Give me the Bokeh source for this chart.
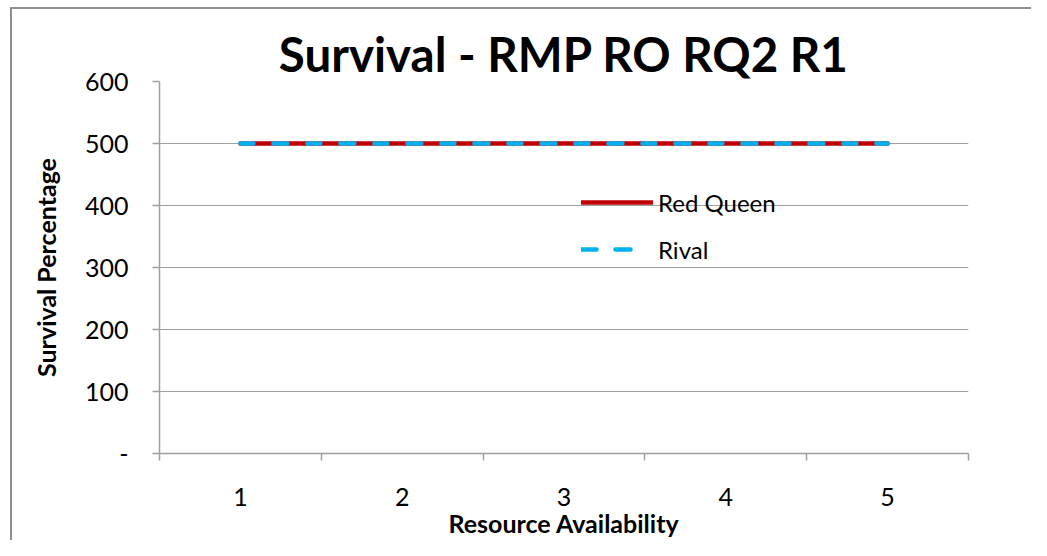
import numpy as np
from bokeh.plotting import figure
from bokeh.models import FixedTicker, Range1d, Legend, LegendItem
from bokeh.embed import file_html
from bokeh.resources import INLINE

# ---- data ----
categories = [1, 2, 3, 4, 5]
red_queen = [500, 500, 500, 500, 500]
rival = [500, 500, 500, 500, 500]
y_ticks = [0, 100, 200, 300, 400, 500, 600]
y_tick_labels = ["-", "100", "200", "300", "400", "500", "600"]
x_tick_labels = ["1", "2", "3", "4", "5"]
title_text = "Survival - RMP RO RQ2 R1"
x_label = "Resource Availability"
y_label = "Survival Percentage"
series_names = ["Red Queen", "Rival"]

FONT = "Lato"
GRAY = "#a0a0a0"
BORDER = "#8f8f8f"
RED = "#C00000"
CYAN = "#00B0F0"

p = figure(width=1031, height=540, output_backend="svg", toolbar_location=None,
           x_range=Range1d(0.5, 5.5), y_range=Range1d(0, 600),
           min_border_left=159, min_border_top=81, min_border_right=63,
           min_border_bottom=84, title=title_text)
p.styles = {
    "background-color": "white",
    "background-image": f"linear-gradient({BORDER},{BORDER}), linear-gradient({BORDER},{BORDER})",
    "background-size": "2px 100%, 100% 2px",
    "background-position": "10px 7px, 10px 7px",
    "background-repeat": "no-repeat",
}

p.title.align = "center"
p.title.text_font = FONT
p.title.text_font_size = "47.5px"
p.title.text_font_style = "bold"
p.title.text_color = "black"
p.title.standoff = 0

p.outline_line_color = None
p.background_fill_color = "white"
p.border_fill_color = None

# x axis: labels at category centres, ticks at category boundaries
p.xaxis.ticker = FixedTicker(ticks=categories,
                             minor_ticks=[c - 0.5 for c in categories] + [categories[-1] + 0.5])
p.xaxis.major_label_overrides = {c: l for c, l in zip(categories, x_tick_labels)}
p.xaxis.major_tick_out = 0
p.xaxis.major_tick_in = 0
p.xaxis.minor_tick_out = 7
p.xaxis.minor_tick_in = 0
p.xaxis.minor_tick_line_color = GRAY
p.xaxis.minor_tick_line_width = 1.5

p.yaxis.ticker = FixedTicker(ticks=y_ticks)
p.yaxis.major_label_overrides = {t: l for t, l in zip(y_ticks, y_tick_labels)}
p.yaxis.major_tick_out = 7
p.yaxis.major_tick_in = 0
p.yaxis.minor_tick_line_color = None
p.yaxis.major_tick_line_color = GRAY
p.yaxis.major_tick_line_width = 1.5

for ax in (p.xaxis, p.yaxis):
    ax.axis_line_color = GRAY
    ax.axis_line_width = 1.5
    ax.major_label_text_font = FONT
    ax.major_label_text_font_size = "25px"
    ax.major_label_text_color = "black"
    ax.axis_label_text_font = FONT
    ax.axis_label_text_font_size = "25px"
    ax.axis_label_text_font_style = "bold"
    ax.axis_label_text_color = "black"

p.xaxis.axis_label = x_label
p.yaxis.axis_label = y_label
p.xaxis.major_label_standoff = 27
p.xaxis.axis_label_standoff = -1
p.yaxis.major_label_standoff = 24
p.yaxis.axis_label_standoff = 21

p.xgrid.grid_line_color = None
p.ygrid.grid_line_color = GRAY
p.ygrid.grid_line_width = 1.2

r1 = p.line(categories, red_queen, line_color=RED, line_width=4.5, line_cap="round")
r2 = p.line(categories, rival, line_color=CYAN, line_width=4.5, line_dash="13 20 14 20",
            line_cap="round")
# legend swatch for the dashed series (NaN data: it is only drawn in the legend)
r2_key = p.line(x=[np.nan], y=[np.nan], line_color=CYAN, line_width=4.5,
                line_dash="15 19 15 80", line_cap="round")

legend = Legend(items=[LegendItem(label=series_names[0], renderers=[r1]),
                       LegendItem(label=series_names[1], renderers=[r2_key])],
                location=(422, 189), border_line_color=None, background_fill_alpha=0,
                padding=0, margin=0, glyph_width=72, glyph_height=30, label_height=30,
                spacing=17, label_standoff=5, label_text_font=FONT,
                label_text_font_size="24px", label_text_color="black")
p.add_layout(legend)

open("out.html", "w").write(file_html(p, INLINE))
